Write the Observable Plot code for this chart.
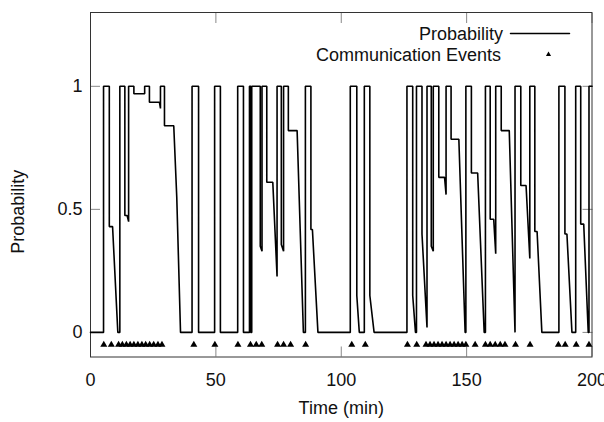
<!DOCTYPE html>
<html><head><meta charset="utf-8">
<script src="https://cdn.jsdelivr.net/npm/d3@7"></script>
<script src="https://cdn.jsdelivr.net/npm/@observablehq/plot@0.6"></script>
<style>html,body{margin:0;padding:0;background:#fff;overflow:hidden}</style>
</head><body><div id="chart"></div>
<script>
// Probability trace (time in minutes, probability)
const probTime = [
  0, 5.2, 5.2, 7.5, 7.5, 8.8, 10.9, 11.7, 11.7, 13.7, 13.7, 14.6, 15.2, 15.2,
  17.3, 17.3, 21.6, 21.6, 23.5, 23.5, 27.5, 27.9, 27.9, 29.5, 29.5, 33.2, 34.4, 35.9,
  40.5, 40.5, 43.1, 43.1, 49.5, 49.5, 51.8, 51.8, 58.7, 58.7, 61.0, 61.0,
  63.4, 63.4, 63.9, 63.9, 64.3, 64.3, 67.7, 67.7, 68.4, 68.4, 70.3, 70.3, 72.7,
  74.4, 74.4, 76.1, 76.1, 77.0, 77.0, 78.9, 78.9, 82.4, 84.9, 85.7, 85.7, 87.9, 87.9,
  88.5, 90.7, 103.6, 103.6, 106.2, 106.2, 107.2, 109.2, 109.2, 111.4, 111.4, 113.1,
  126.2, 126.2, 128.5, 128.5, 129.6, 130.0, 130.0, 132.2, 132.2, 134.2, 134.2,
  135.9, 135.9, 136.7, 136.7, 138.9, 138.9, 141.2, 141.8, 141.8, 143.8, 143.8, 146.9,
  149.4, 149.7, 149.7, 151.9, 151.9, 154.4, 157.0, 157.5, 157.5, 159.4, 159.4, 160.8,
  161.6, 161.6, 163.8, 163.8, 167.0, 169.3, 169.3, 171.6, 171.6, 173.7, 175.2, 175.2,
  177.2, 177.2, 178.1, 180.0, 186.8, 186.8, 189.2, 189.2, 190.0, 192.0, 193.5, 193.5,
  195.5, 195.5, 196.7, 198.5, 198.8, 198.8, 200
];
const probValue = [
  0, 0, 1, 1, 0.43, 0.43, 0, 0, 1, 1, 0.475, 0.475, 0.45, 1,
  1, 0.97, 0.97, 1, 1, 0.935, 0.935, 0.91, 1, 1, 0.84, 0.84, 0.55, 0,
  0, 1, 1, 0, 0, 1, 1, 0, 0, 1, 1, 0,
  0, 1, 1, 0, 0, 1, 1, 0.35, 0.33, 1, 1, 0.61, 0.61,
  0.227, 1, 1, 0.357, 0.33, 1, 1, 0.82, 0.82, 0, 0, 1, 1, 0.418,
  0.418, 0, 0, 1, 1, 0.15, 0, 0, 1, 1, 0.15, 0,
  0, 1, 1, 0.15, 0, 0, 1, 1, 0.4, 0.02, 1,
  1, 0.35, 0.33, 1, 1, 0.63, 0.63, 0.56, 1, 1, 0.785, 0.785,
  0, 0, 1, 1, 0.648, 0.648, 0, 0, 1, 1, 0.46, 0.46,
  0.32, 1, 1, 0.82, 0.82, 0, 1, 1, 0.597, 0.597, 0.30, 1,
  1, 0.41, 0.41, 0, 0, 1, 1, 0.40, 0.40, 0, 0, 1,
  1, 0.44, 0.44, 0, 0, 1, 1
];
// Communication event times (min)
const eventTime = [
  5.3, 8.3, 11.2, 12.7, 14.3, 15.8, 17.3, 18.9, 20.5, 22.0, 23.6, 25.2, 26.9, 28.5,
  41.2, 49.6, 58.8, 63.8, 66.1, 68.3, 74.6, 77.0, 79.8, 85.8,
  104.2, 109.6, 126.4, 130.1, 133.8, 135.4, 137.0, 138.6, 140.2, 141.8, 143.4, 145.0,
  146.6, 148.2, 149.7, 153.4, 157.5, 159.4, 161.4, 163.4, 165.3, 169.5, 175.3,
  186.6, 189.3, 193.7, 198.8
];
const eventLevel = -0.05;
const xTicks = [0, 50, 100, 150, 200];
const yTicks = [0, 0.5, 1];
const xLabel = "Time (min)";
const yLabel = "Probability";
const legendLine = "Probability";
const legendEvents = "Communication Events";

const rows = probTime.map((t, i) => ({t, p: probValue[i]}));
const font = "'Liberation Sans', Arial, Helvetica, sans-serif";
const tickStroke = "#888";
const textColor = "#111";
const fs = 18;
const lineShape = {draw(context, l) { context.moveTo(0, 0); context.lineTo(0, -l); }};

const chart = Plot.plot({
  width: 604, height: 422,
  marginLeft: 90, marginRight: 12.5, marginTop: 12, marginBottom: 65.5,
  style: {fontFamily: font, fontSize: fs + "px", color: textColor, background: "#fff"},
  x: {domain: [0, 200]},
  y: {domain: [-0.1, 1.3]},
  marks: [
    // inward ticks on all four sides
    Plot.axisX(xTicks, {anchor: "bottom", tickSize: 10, dy: -10, tickFormat: () => "", label: null, stroke: tickStroke}),
    Plot.axisX(xTicks, {anchor: "top", tickSize: 10, dy: 10, tickFormat: () => "", label: null, stroke: tickStroke}),
    Plot.axisY(yTicks, {anchor: "left", tickSize: 10, dx: 10, tickFormat: () => "", label: null, stroke: tickStroke}),
    Plot.axisY(yTicks, {anchor: "right", tickSize: 10, dx: -10, tickFormat: () => "", label: null, stroke: tickStroke}),
    // tick labels
    Plot.axisX(xTicks, {anchor: "bottom", tickSize: 0, tickPadding: 16, tickFormat: d => String(d), label: null, fill: textColor, fontSize: fs}),
    Plot.axisY(yTicks, {anchor: "left", tickSize: 0, tickPadding: 8, tickFormat: d => String(d), label: null, fill: textColor, fontSize: fs}),
    Plot.frame({stroke: "#333", strokeWidth: 1}),
    Plot.line(rows, {x: "t", y: "p", stroke: "#000", strokeWidth: 1.6, strokeLinejoin: "miter"}),
    Plot.dot(eventTime, {x: d => d, y: () => eventLevel, symbol: "triangle", r: 2.6, fill: "#000", stroke: "none"}),
    // axis titles
    Plot.text([xLabel], {frameAnchor: "bottom", dy: 56.5, fontSize: fs, fill: textColor}),
    Plot.text([yLabel], {frameAnchor: "left", rotate: -90, dx: -72, dy: 69, fontSize: fs, fill: textColor}),
    // legend
    Plot.text([legendLine], {frameAnchor: "top-right", textAnchor: "end", dx: -89, dy: 15, fontSize: fs, fill: textColor}),
    Plot.text([legendEvents], {frameAnchor: "top-right", textAnchor: "end", dx: -91, dy: 36, fontSize: fs, fill: textColor}),
    Plot.vector([legendLine], {frameAnchor: "top-right", dx: -81.5, dy: 21, rotate: 90, length: 59, anchor: "start", shape: lineShape, stroke: "#000", strokeWidth: 1.5}),
    Plot.dot([legendEvents], {frameAnchor: "top-right", dx: -43.5, dy: 42, symbol: "triangle", r: 1.9, fill: "#000", stroke: "none"})
  ]
});
document.getElementById("chart").appendChild(chart);
</script>
</body></html>
